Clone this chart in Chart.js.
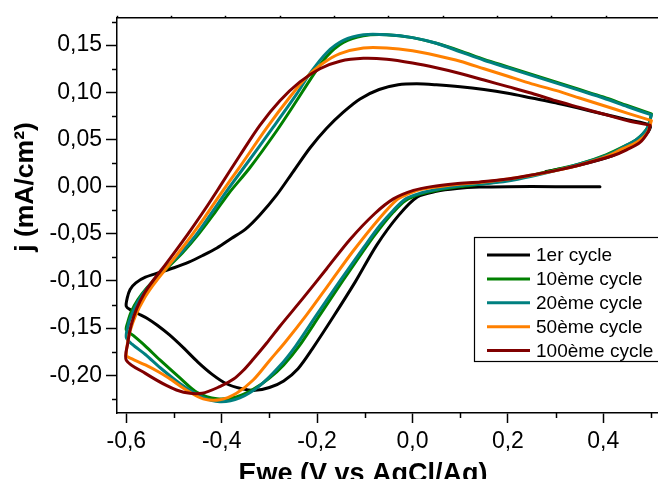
<!DOCTYPE html>
<html><head><meta charset="utf-8">
<script src="https://cdn.jsdelivr.net/npm/chart.js@4.4.1/dist/chart.umd.min.js"></script>
<style>html,body{margin:0;padding:0;background:#fff;overflow:hidden}canvas{display:block}</style>
</head><body>
<canvas id="c" width="658" height="479"></canvas>
<script>
// ---------- DATA ----------
const seriesLabels = ['1er cycle', '10ème cycle', '20ème cycle', '50ème cycle', '100ème cycle'];
const seriesColors = ['#000000', '#008000', '#008080', '#FF8000', '#800000'];
const xTitle = 'Ewe (V vs AgCl/Ag)';
const yTitle = 'j (mA/cm²)';

// 1er cycle (starts at 0.393 V, cathodic scan first)
const E_c1 = [0.393, 0.300, 0.200, 0.140, 0.093, 0.050, 0.010, -0.030, -0.075, -0.120, -0.166, -0.210, -0.240, -0.270, -0.300, -0.330, -0.360, -0.390, -0.420, -0.450, -0.480, -0.510, -0.535, -0.555, -0.574, -0.590, -0.600,
  -0.598, -0.592, -0.580, -0.560, -0.530, -0.500, -0.469, -0.440, -0.410, -0.380, -0.350, -0.320, -0.285, -0.250, -0.215, -0.180, -0.145, -0.110, -0.070, -0.030, 0.009, 0.050, 0.100, 0.150, 0.200, 0.250, 0.300, 0.350, 0.400, 0.450, 0.498,
  0.494, 0.470, 0.420, 0.350, 0.280];
const j_c1 = [0.000, 0.000, 0.000, -0.0005, -0.002, -0.005, -0.011, -0.031, -0.062, -0.101, -0.138, -0.172, -0.193, -0.206, -0.213, -0.216, -0.214, -0.209, -0.199, -0.186, -0.171, -0.157, -0.147, -0.140, -0.135, -0.131, -0.127,
  -0.118, -0.109, -0.102, -0.096, -0.091, -0.086, -0.080, -0.073, -0.065, -0.055, -0.045, -0.030, -0.009, 0.016, 0.041, 0.062, 0.079, 0.093, 0.103, 0.108, 0.109, 0.108, 0.106, 0.103, 0.099, 0.094, 0.089, 0.083, 0.077, 0.071, 0.065,
  0.058, 0.046, 0.033, 0.023, 0.016];

// 10ème cycle
const E_c10 = [0.501, 0.492, 0.470, 0.449, 0.407, 0.350, 0.300, 0.250, 0.200, 0.150, 0.100, 0.050, 0.016, -0.015, -0.040, -0.068, -0.096, -0.145, -0.194, -0.239, -0.270, -0.300, -0.334, -0.369, -0.410, -0.452, -0.487, -0.529, -0.560, -0.585, -0.600,
  -0.597, -0.590, -0.576, -0.558, -0.537, -0.512, -0.482, -0.448, -0.415, -0.385, -0.341, -0.285, -0.243, -0.215, -0.180, -0.145, -0.103, -0.054, 0.000, 0.050, 0.100, 0.150, 0.200, 0.250, 0.300, 0.350, 0.400, 0.450, 0.501];
const j_c10 = [0.077, 0.062, 0.050, 0.044, 0.034, 0.024, 0.018, 0.012, 0.007, 0.003, 0.000, -0.004, -0.008, -0.015, -0.027, -0.044, -0.063, -0.099, -0.136, -0.170, -0.189, -0.203, -0.215, -0.223, -0.225, -0.218, -0.203, -0.184, -0.169, -0.158, -0.152,
  -0.144, -0.133, -0.120, -0.108, -0.097, -0.085, -0.070, -0.050, -0.028, -0.007, 0.020, 0.059, 0.091, 0.113, 0.138, 0.153, 0.160, 0.161, 0.158, 0.152, 0.144, 0.135, 0.127, 0.119, 0.111, 0.103, 0.095, 0.086, 0.077];

// 20ème cycle
const E_c20 = [0.501, 0.492, 0.470, 0.449, 0.407, 0.350, 0.300, 0.250, 0.200, 0.150, 0.100, 0.050, 0.016, -0.015, -0.040, -0.068, -0.103, -0.152, -0.201, -0.245, -0.278, -0.320, -0.362, -0.404, -0.445, -0.487, -0.529, -0.560, -0.588, -0.600,
  -0.597, -0.590, -0.577, -0.560, -0.540, -0.515, -0.485, -0.452, -0.420, -0.390, -0.348, -0.292, -0.243, -0.215, -0.180, -0.145, -0.103, -0.054, 0.000, 0.050, 0.100, 0.150, 0.200, 0.250, 0.300, 0.350, 0.400, 0.450, 0.501];
const j_c20 = [0.076, 0.062, 0.050, 0.044, 0.033, 0.024, 0.017, 0.011, 0.006, 0.003, 0.001, -0.003, -0.007, -0.013, -0.025, -0.041, -0.065, -0.100, -0.136, -0.169, -0.190, -0.211, -0.224, -0.228, -0.222, -0.209, -0.192, -0.178, -0.167, -0.160,
  -0.149, -0.137, -0.123, -0.110, -0.098, -0.085, -0.070, -0.050, -0.027, -0.005, 0.024, 0.063, 0.098, 0.120, 0.142, 0.155, 0.161, 0.161, 0.158, 0.152, 0.143, 0.134, 0.126, 0.118, 0.110, 0.102, 0.094, 0.085, 0.076];

// 50ème cycle
const E_c50 = [0.501, 0.492, 0.470, 0.440, 0.407, 0.350, 0.300, 0.250, 0.200, 0.150, 0.086, 0.040, 0.016, -0.010, -0.033, -0.070, -0.124, -0.173, -0.222, -0.267, -0.299, -0.334, -0.369, -0.404, -0.439, -0.470, -0.511, -0.530, -0.560, -0.595, -0.600,
  -0.598, -0.592, -0.580, -0.563, -0.543, -0.520, -0.495, -0.465, -0.435, -0.404, -0.362, -0.306, -0.257, -0.222, -0.187, -0.152, -0.103, -0.054, 0.000, 0.050, 0.100, 0.150, 0.200, 0.250, 0.300, 0.350, 0.400, 0.450, 0.501];
const j_c50 = [0.070, 0.057, 0.047, 0.040, 0.032, 0.023, 0.017, 0.012, 0.008, 0.005, 0.002, -0.001, -0.003, -0.008, -0.014, -0.034, -0.068, -0.102, -0.136, -0.165, -0.184, -0.205, -0.219, -0.226, -0.225, -0.217, -0.203, -0.197, -0.189, -0.181, -0.179,
  -0.168, -0.153, -0.136, -0.119, -0.104, -0.089, -0.073, -0.053, -0.032, -0.009, 0.021, 0.062, 0.095, 0.116, 0.131, 0.141, 0.147, 0.147, 0.144, 0.139, 0.133, 0.125, 0.117, 0.109, 0.102, 0.094, 0.086, 0.078, 0.070];

// 100ème cycle
const E_c100 = [0.498, 0.494, 0.477, 0.449, 0.421, 0.351, 0.300, 0.246, 0.200, 0.142, 0.090, 0.040, 0.002, -0.040, -0.080, -0.131, -0.180, -0.229, -0.278, -0.306, -0.334, -0.355, -0.375, -0.404, -0.441, -0.480, -0.515, -0.560, -0.600,
  -0.597, -0.590, -0.578, -0.562, -0.543, -0.520, -0.495, -0.465, -0.435, -0.404, -0.362, -0.320, -0.278, -0.236, -0.194, -0.152, -0.103, -0.054, 0.000, 0.050, 0.100, 0.150, 0.200, 0.250, 0.300, 0.350, 0.400, 0.450, 0.498];
const j_c100 = [0.065, 0.058, 0.047, 0.039, 0.033, 0.023, 0.017, 0.012, 0.008, 0.005, 0.003, 0.000, -0.004, -0.013, -0.029, -0.056, -0.087, -0.118, -0.148, -0.166, -0.183, -0.195, -0.204, -0.212, -0.219, -0.218, -0.211, -0.198, -0.184,
  -0.166, -0.147, -0.129, -0.113, -0.099, -0.084, -0.067, -0.046, -0.024, 0.000, 0.033, 0.065, 0.091, 0.111, 0.125, 0.133, 0.136, 0.135, 0.131, 0.126, 0.120, 0.113, 0.106, 0.099, 0.091, 0.084, 0.077, 0.070, 0.065];

const seriesE = [E_c1, E_c10, E_c20, E_c50, E_c100];
const seriesJ = [j_c1, j_c10, j_c20, j_c50, j_c100];

const xMin = -0.6195, xMax = 0.5147, xStep = 0.2;
const yMin = -0.240, yMax = 0.179, yStep = 0.05;

// ---------- CHART ----------
const FONT = "'Liberation Sans', Arial, sans-serif";
const fmt = (v, d) => { if (Math.abs(v) < 1e-9) v = 0; return v.toFixed(d).replace('.', ','); };

const datasets = seriesLabels.map((lab, i) => ({
  label: lab,
  data: seriesE[i].map((e, k) => ({x: e, y: seriesJ[i][k]})),
  borderColor: seriesColors[i],
  backgroundColor: seriesColors[i],
  borderWidth: 3,
  pointRadius: 0,
  showLine: true,
  fill: false,
  tension: 0.3,
  borderJoinStyle: 'round',
  borderCapStyle: 'round',
  order: seriesLabels.length - i,
  xAxisID: 'x', yAxisID: 'y'
}));

const minorTicks = {
  id: 'minorTicks',
  afterDraw(chart) {
    const ctx = chart.ctx, xs = chart.scales.x, ys = chart.scales.y;
    ctx.save();
    ctx.strokeStyle = '#000'; ctx.lineWidth = 1.5;
    const yt = ys.ticks.map(t => t.value), ysp = yt[1] - yt[0];
    for (let v = yt[0] - ysp / 2; v <= ys.max + 1e-9; v += ysp) {
      if (v < ys.min) continue;
      const p = Math.round(ys.getPixelForValue(v)) + 0.5;
      ctx.beginPath(); ctx.moveTo(ys.right - 5, p); ctx.lineTo(ys.right, p); ctx.stroke();
    }
    const xt = xs.ticks.map(t => t.value), xsp = xt[1] - xt[0];
    for (let v = xt[0] - xsp / 2; v <= xs.max + 1e-9; v += xsp) {
      if (v < xs.min) continue;
      const p = Math.round(xs.getPixelForValue(v)) + 0.5;
      ctx.beginPath(); ctx.moveTo(p, xs.top); ctx.lineTo(p, xs.top + 5); ctx.stroke();
    }
    ctx.restore();
  }
};

const titles = {
  id: 'titles',
  afterDraw(chart) {
    const ctx = chart.ctx;
    ctx.save();
    ctx.fillStyle = '#000';
    ctx.font = 'bold 27px ' + FONT;
    ctx.textAlign = 'center'; ctx.textBaseline = 'alphabetic';
    ctx.fillText(xTitle, 363, 482);
    ctx.translate(26, 187); ctx.rotate(-Math.PI / 2);
    ctx.font = 'bold 26.5px ' + FONT;
    ctx.textBaseline = 'middle';
    ctx.fillText(yTitle, 0, 0);
    ctx.restore();
  }
};

const legendBox = {
  id: 'legendBox',
  afterDraw(chart) {
    const ctx = chart.ctx;
    ctx.save();
    ctx.fillStyle = '#fff';
    ctx.fillRect(474, 237, 190, 125);
    ctx.strokeStyle = '#000'; ctx.lineWidth = 1.2;
    ctx.strokeRect(474.5, 237.5, 200, 124);
    chart.data.datasets.forEach((ds, i) => {
      const y = 255 + i * 23.9;
      ctx.strokeStyle = ds.borderColor; ctx.lineWidth = 3;
      ctx.beginPath(); ctx.moveTo(487, y); ctx.lineTo(530, y); ctx.stroke();
      ctx.fillStyle = '#000'; ctx.font = '19px ' + FONT;
      ctx.textAlign = 'left'; ctx.textBaseline = 'middle';
      ctx.fillText(ds.label, 536, y + 1);
    });
    ctx.restore();
  }
};

new Chart(document.getElementById('c'), {
  type: 'scatter',
  data: {datasets},
  options: {
    responsive: false,
    animation: false,
    devicePixelRatio: 1,
    layout: {padding: 0},
    plugins: {legend: {display: false}, tooltip: {enabled: false}},
    scales: {
      x: {
        type: 'linear', position: 'bottom', min: xMin, max: xMax,
        ticks: {stepSize: xStep, includeBounds: false, autoSkip: false, maxRotation: 0, padding: 5,
          color: '#000', font: {family: FONT, size: 23}, callback: v => fmt(v, 1)},
        grid: {drawOnChartArea: false, drawTicks: true, tickLength: 10, tickWidth: 1.5, tickColor: '#000'},
        border: {display: true, color: '#000', width: 1.5},
        afterFit(s) { s.height = 66; }
      },
      x2: {
        type: 'linear', position: 'top', min: 0, max: 9.95,
        ticks: {display: false, stepSize: 1, includeBounds: false},
        grid: {drawOnChartArea: false, drawTicks: true, tickLength: 2, tickWidth: 1.5, tickColor: '#000'},
        border: {display: true, color: '#000', width: 1.5},
        afterFit(s) { s.height = 15; }
      },
      y: {
        type: 'linear', position: 'left', min: yMin, max: yMax,
        ticks: {stepSize: yStep, includeBounds: false, autoSkip: false, padding: 4,
          color: '#000', font: {family: FONT, size: 23}, callback: v => fmt(v, 2)},
        grid: {drawOnChartArea: false, drawTicks: true, tickLength: 11, tickWidth: 1.5, tickColor: '#000'},
        border: {display: true, color: '#000', width: 1.5},
        afterFit(s) { s.width = 117; }
      }
    }
  },
  plugins: [minorTicks, titles, legendBox]
});
</script>
</body></html>
